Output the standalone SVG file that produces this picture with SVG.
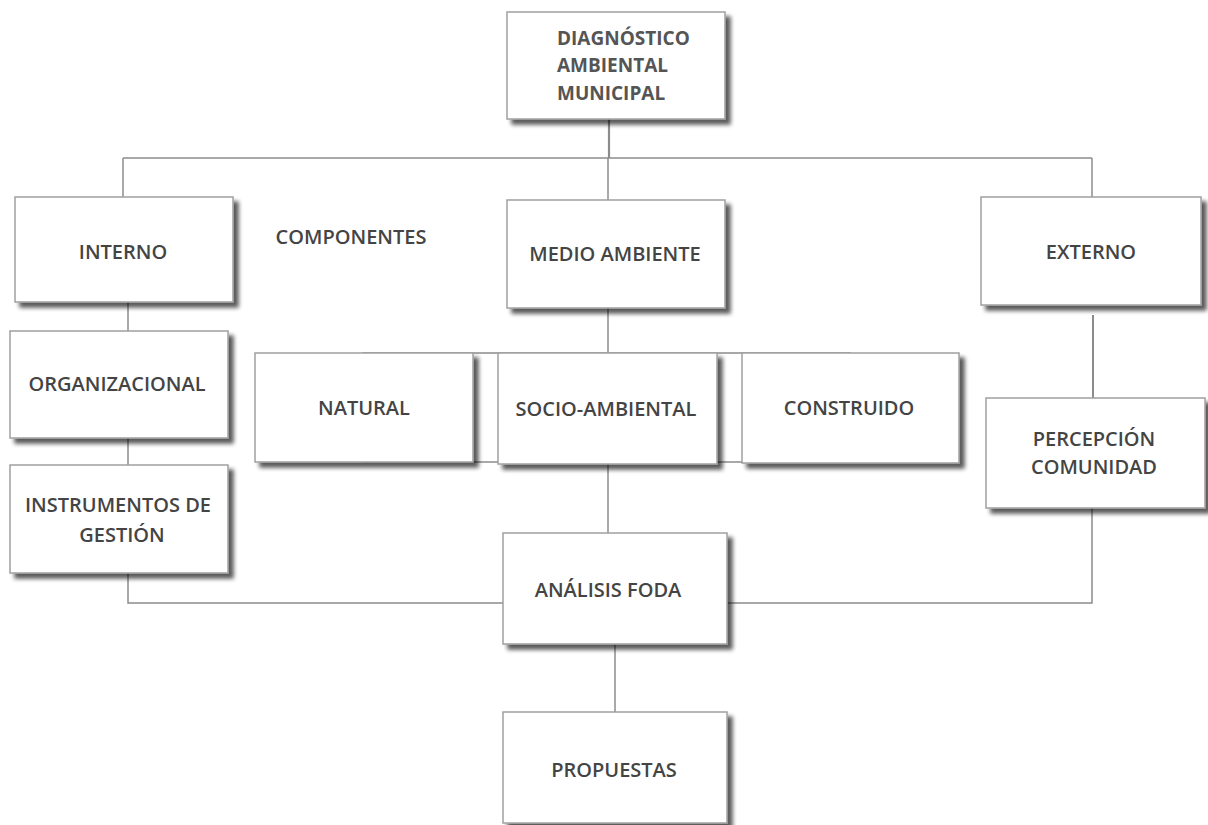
<svg xmlns="http://www.w3.org/2000/svg" width="1208" height="825" viewBox="0 0 1208 825">
<defs>
<filter id="sh" x="-10%" y="-10%" width="130%" height="130%">
<feGaussianBlur in="SourceAlpha" stdDeviation="2.2"/>
<feOffset dx="5" dy="5" result="o"/>
<feComponentTransfer><feFuncA type="linear" slope="0.65"/></feComponentTransfer>
<feMerge><feMergeNode/><feMergeNode in="SourceGraphic"/></feMerge>
</filter>
</defs>
<style>
.box{fill:#fff;stroke:#a0a0a0;stroke-width:1.5;filter:url(#sh)}
.ln{fill:none;stroke:#8c8c8c;stroke-width:1.5}
.t{font-family:"Open Sans","Liberation Sans",sans-serif;font-size:20px;font-weight:600;fill:#444;text-anchor:middle}
.tb{font-family:"Open Sans","Liberation Sans",sans-serif;font-size:19px;font-weight:700;fill:#555}
</style>
<rect width="1208" height="825" fill="#fff"/>
<g id="connectors">
<path class="ln" d="M609 119V158" style="stroke-width:2.2"/>
<path class="ln" d="M123 158H1092"/>
<path class="ln" d="M123 158V197"/>
<path class="ln" d="M608 158V200"/>
<path class="ln" d="M1092 158V197"/>
<path class="ln" d="M128 302V331"/>
<path class="ln" d="M128 438V465"/>
<path class="ln" d="M128 573V603H503"/>
<path class="ln" d="M608 308V353"/>
<rect class="ln" x="363" y="353" width="487" height="109"/>
<path class="ln" d="M608 464V533"/>
<path class="ln" d="M615 644V712"/>
<path class="ln" d="M727 603H1092V508"/>
<path class="ln" d="M1093 315V398" style="stroke-width:2"/>
</g>
<g id="diagnostico"><rect class="box" x="507" y="12" width="218" height="107"/>
<text class="tb" x="557" y="45">DIAGNÓSTICO</text>
<text class="tb" x="557" y="72">AMBIENTAL</text>
<text class="tb" x="557" y="100">MUNICIPAL</text></g>
<g id="interno"><rect class="box" x="15" y="197" width="218" height="105"/><text class="t" x="123" y="259">INTERNO</text></g>
<g id="componentes"><text class="t" x="351" y="244">COMPONENTES</text></g>
<g id="medio"><rect class="box" x="507" y="200" width="218" height="108"/><text class="t" x="615" y="261">MEDIO AMBIENTE</text></g>
<g id="externo"><rect class="box" x="981" y="197" width="220" height="108"/><text class="t" x="1091" y="259">EXTERNO</text></g>
<g id="organizacional"><rect class="box" x="10" y="331" width="218" height="107"/><text class="t" x="117" y="391">ORGANIZACIONAL</text></g>
<g id="instrumentos"><rect class="box" x="10" y="465" width="218" height="108"/><text class="t" x="118" y="512">INSTRUMENTOS DE</text><text class="t" x="122" y="542">GESTIÓN</text></g>
<g id="natural"><rect class="box" x="255" y="353" width="218" height="109"/><text class="t" x="364" y="415">NATURAL</text></g>
<g id="socio"><rect class="box" x="498" y="353" width="219" height="111"/><text class="t" x="606" y="416">SOCIO-AMBIENTAL</text></g>
<g id="construido"><rect class="box" x="742" y="353" width="217" height="110"/><text class="t" x="849" y="415">CONSTRUIDO</text></g>
<g id="percepcion"><rect class="box" x="986" y="398" width="219" height="110"/><text class="t" x="1094" y="446">PERCEPCIÓN</text><text class="t" x="1094" y="474">COMUNIDAD</text></g>
<g id="foda"><rect class="box" x="503" y="533" width="224" height="111"/><text class="t" x="608" y="597">ANÁLISIS FODA</text></g>
<g id="propuestas"><rect class="box" x="503" y="712" width="224" height="111"/><text class="t" x="614" y="777">PROPUESTAS</text></g>
</svg>
